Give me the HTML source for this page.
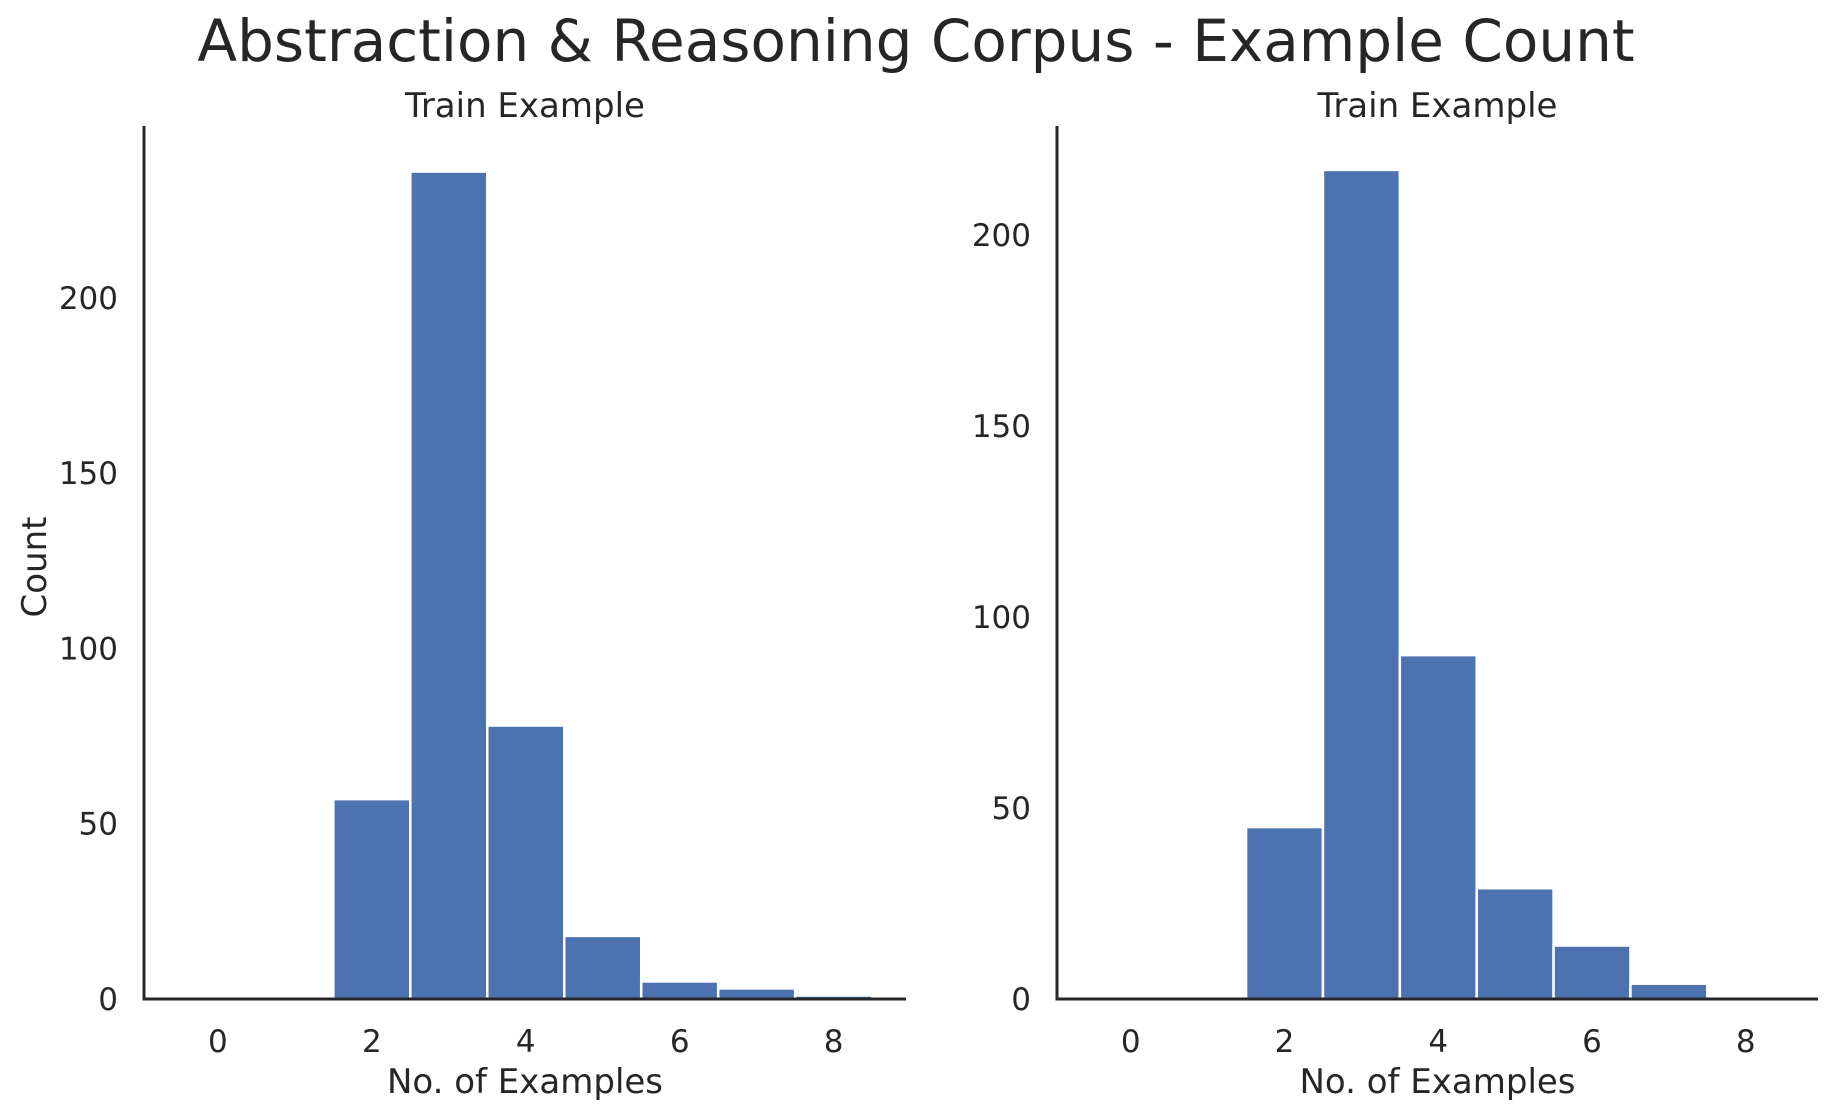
<!DOCTYPE html>
<html><head><meta charset="utf-8"><style>
html,body{margin:0;padding:0;background:#fff}
svg{display:block;font-family:"DejaVu Sans","Liberation Sans",sans-serif}
</style></head><body>
<svg id="c" width="1832" height="1113" viewBox="0 0 1832 1113">
<text x="916" y="61" text-anchor="middle" font-size="58" fill="#262626">Abstraction &amp; Reasoning Corpus - Example Count</text>
</svg>
<script>
const categories = [0,1,2,3,4,5,6,7,8];
const leftCounts = [0,0,57,236,78,18,5,3,1];
const rightCounts = [0,0,45,217,90,29,14,4,0];
const xTicks = [0,2,4,6,8];
const leftYTicks = [0,50,100,150,200];
const rightYTicks = [0,50,100,150,200];
const ns = 'http://www.w3.org/2000/svg';
const svg = document.getElementById('c');
function mk(tag, attrs, parent){const e=document.createElementNS(ns,tag);for(const k in attrs)e.setAttribute(k,attrs[k]);(parent||svg).appendChild(e);return e;}
function panel(p){
  const g = mk('g',{});
  
  
  const xs = v => p.x0 + (v - p.xmin)/(p.xmax - p.xmin)*(p.x1 - p.x0);
  const ys = v => p.yb - v/p.ymax*(p.yb - p.yt);
  p.counts.forEach((c,i)=>{
    if(c<=0) return;
    const cat = categories[i];
    const r = mk('rect',{x:xs(cat-0.5),y:ys(c),width:xs(cat+0.5)-xs(cat-0.5),height:p.yb-ys(c),fill:'#4c72b0',stroke:'#fff','stroke-width':2.5},g);
    
    
  });
  const ya = mk('line',{x1:p.x0,y1:p.yt,x2:p.x0,y2:p.yb,stroke:'#262626','stroke-width':3},g);
  
  
  const xa = mk('line',{x1:p.x0-1.5,y1:p.yb,x2:p.x1,y2:p.yb,stroke:'#262626','stroke-width':3},g);
  
  
  xTicks.forEach(t=>{
    const tx = mk('text',{x:xs(t),y:p.yb+53,'text-anchor':'middle','font-size':31,fill:'#262626'},g);
    tx.textContent = t;
    
    
  });
  p.yticks.forEach(t=>{
    const tx = mk('text',{x:p.x0-26,y:ys(t)+11,'text-anchor':'end','font-size':31,fill:'#262626'},g);
    tx.textContent = t;
    
    
  });
  const xl = mk('text',{x:(p.x0+p.x1)/2,y:p.yb+94,'text-anchor':'middle','font-size':34,fill:'#262626'},g);
  xl.textContent = 'No. of Examples';
  
  
  const tt = mk('text',{x:(p.x0+p.x1)/2,y:117,'text-anchor':'middle','font-size':34,fill:'#262626'},g);
  tt.textContent = 'Train Example';
  
  
  if(p.ylabel){
    const yl = mk('text',{x:0,y:0,'text-anchor':'middle','font-size':34,fill:'#262626',transform:'translate(46,567) rotate(-90)'},g);
    yl.textContent = 'Count';
    
    
  }
}
panel({name:'left-histogram',x0:144,x1:906,xmin:-0.96,xmax:8.94,yb:999,yt:126,ymax:249,counts:leftCounts,yticks:leftYTicks,ylabel:true});
panel({name:'right-histogram',x0:1057,x1:1818,xmin:-0.96,xmax:8.94,yb:999,yt:126,ymax:228.5,counts:rightCounts,yticks:rightYTicks,ylabel:false});
</script>
</body></html>
